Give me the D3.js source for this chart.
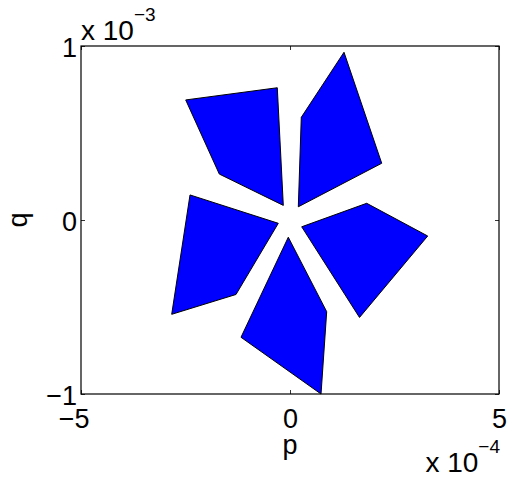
<!DOCTYPE html>
<html>
<head>
<meta charset="utf-8">
<script src="https://cdn.jsdelivr.net/npm/d3@7"></script>
<style>
  html, body { margin: 0; padding: 0; background: #fff; }
  svg { display: block; font-family: "Liberation Sans", Arial, Helvetica, sans-serif; }
</style>
</head>
<body>
<svg id="chart" width="508" height="478"></svg>
<script>
// ---- data ----
const xTicks = [-5e-4, 0, 5e-4];
const yTicks = [-1e-3, 0, 1e-3];
const xTickLabels = ["\u22125", "0", "5"];
const yTickLabels = ["\u22121", "0", "1"];
const xLabel = "p";
const yLabel = "q";
const xExponent = "\u22124";
const yExponent = "\u22123";

const petalUpperLeft  = [[-2.495e-4, 0.690e-3], [-0.304e-4, 0.760e-3], [-0.160e-4, 0.084e-3], [-1.691e-4, 0.264e-3]];
const petalUpperRight = [[0.270e-4, 0.590e-3], [1.292e-4, 0.964e-3], [2.194e-4, 0.326e-3], [0.199e-4, 0.076e-3]];
const petalRight      = [[0.280e-4, -0.039e-3], [1.835e-4, 0.096e-3], [3.294e-4, -0.092e-3], [1.663e-4, -0.560e-3]];
const petalBottom     = [[-0.041e-4, -0.099e-3], [0.878e-4, -0.527e-3], [0.742e-4, -1.000e-3], [-1.172e-4, -0.674e-3]];
const petalLeft       = [[-2.392e-4, 0.144e-3], [-0.280e-4, -0.019e-3], [-1.292e-4, -0.428e-3], [-2.830e-4, -0.542e-3]];
const petals = [petalUpperLeft, petalUpperRight, petalRight, petalBottom, petalLeft];

// ---- layout ----
const mLeft = 81, mRight = 499, mTop = 46, mBottom = 394;
const svg = d3.select("#chart");
const x = d3.scaleLinear().domain([-5e-4, 5e-4]).range([mLeft, mRight]);
const y = d3.scaleLinear().domain([-1e-3, 1e-3]).range([mBottom, mTop]);
const FS = 27;

// polygons
const line = d3.line().x(d => x(d[0])).y(d => y(d[1])).curve(d3.curveLinearClosed);
svg.append("g").selectAll("path").data(petals).join("path")
  .attr("d", line)
  .attr("fill", "#0000ff")
  .attr("stroke", "#000")
  .attr("stroke-width", 1)
  .attr("stroke-linejoin", "miter");

// axes (ticks inside)
const fmtX = d => xTickLabels[xTicks.indexOf(d)];
const fmtY = d => yTickLabels[yTicks.indexOf(d)];

const gx = svg.append("g").attr("transform", `translate(0,${mBottom})`)
  .call(d3.axisBottom(x).tickValues(xTicks).tickFormat(fmtX).tickSizeInner(-4).tickSizeOuter(0));
const gy = svg.append("g").attr("transform", `translate(${mLeft},0)`)
  .call(d3.axisLeft(y).tickValues(yTicks).tickFormat(fmtY).tickSizeInner(-4).tickSizeOuter(0).tickPadding(4));
const gt = svg.append("g").attr("transform", `translate(0,${mTop})`)
  .call(d3.axisTop(x).tickValues(xTicks).tickFormat("").tickSizeInner(-4).tickSizeOuter(0));
const gr = svg.append("g").attr("transform", `translate(${mRight},0)`)
  .call(d3.axisRight(y).tickValues(yTicks).tickFormat("").tickSizeInner(-4).tickSizeOuter(0));

[gx, gy, gt, gr].forEach(g => {
  g.select(".domain").remove();
  g.selectAll(".tick line").attr("stroke", "#000").attr("stroke-width", 0.8);
  g.selectAll("text").attr("font-family", "Liberation Sans, Arial, sans-serif")
    .attr("font-size", FS).attr("fill", "#000");
});
// x tick labels: digits centered on tick, minus sign hangs left
gx.selectAll(".tick text")
  .attr("dy", null)
  .each(function(d) {
    const t = d3.select(this);
    t.attr("y", 34);
    if (d < 0) t.attr("text-anchor", "end").attr("x", 8);
    else t.attr("text-anchor", "middle").attr("x", 0);
  });
gy.selectAll(".tick text").attr("dy", null).attr("y", 10);

// box
svg.append("rect")
  .attr("x", mLeft).attr("y", mTop)
  .attr("width", mRight - mLeft).attr("height", mBottom - mTop)
  .attr("fill", "none").attr("stroke", "#000").attr("stroke-width", 1.2);

// axis labels
svg.append("text").attr("x", x(0)).attr("y", 454)
  .attr("text-anchor", "middle").attr("font-size", FS).text(xLabel);
svg.append("text").attr("transform", `translate(27,${y(0)}) rotate(-90)`)
  .attr("text-anchor", "middle").attr("font-size", FS).text(yLabel);

// exponent labels
const ey = svg.append("text").attr("x", 81).attr("y", 40).attr("font-size", 28);
ey.append("tspan").text("x 10");
ey.append("tspan").attr("dy", -19).attr("font-size", 19).text(yExponent);

const ex = svg.append("text").attr("x", 500).attr("y", 472).attr("font-size", 28).attr("text-anchor", "end");
ex.append("tspan").text("x 10");
ex.append("tspan").attr("dy", -19).attr("font-size", 19).text(xExponent);
</script>
</body>
</html>
